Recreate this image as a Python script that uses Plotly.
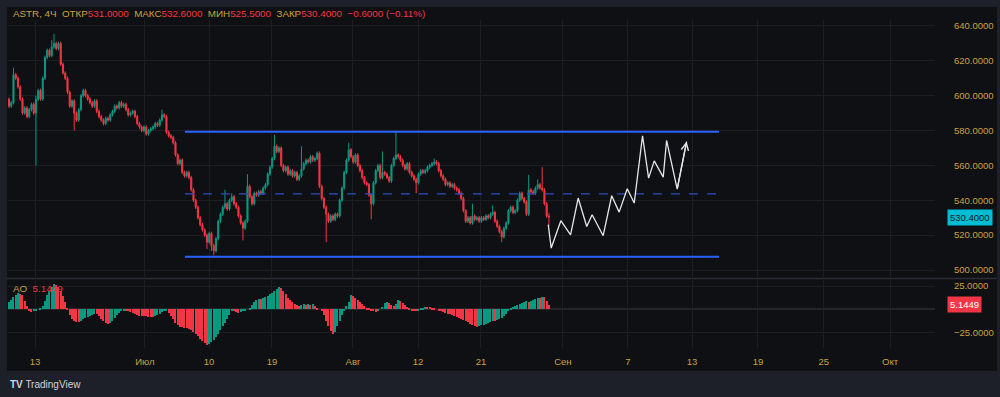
import plotly.graph_objects as go

W, H = 1000, 397

# ---------------- data ----------------
closes = [
    594, 596, 612, 610, 605, 598, 590, 593, 588, 592,
    595, 590, 598, 603, 598, 610, 622, 626, 623, 628,
    630, 627, 630, 618, 613, 610, 602, 594, 597, 590,
    586, 592, 600, 603, 600, 598, 596, 594, 597, 591,
    588, 586, 584, 587, 586, 589, 591, 594, 593, 596,
    594, 595, 592, 589, 590, 591, 588, 584, 582, 580,
    582, 578, 580, 581, 582, 584, 583, 586, 589, 588,
    579, 577, 576, 573, 566, 561, 563, 556, 554, 556,
    553, 546, 540, 536, 530, 526, 523, 520, 516, 521,
    514, 511, 518, 528, 532, 536, 538, 535, 540, 542,
    538, 536, 531, 527, 524, 528, 548, 542, 538, 544,
    543, 545, 544, 547, 549, 555, 559, 564, 571, 568,
    570, 560, 557, 559, 555, 557, 554, 556, 552, 554,
    558, 561, 563, 562, 565, 563, 564, 567, 548, 541,
    536, 532, 528, 531, 529, 532, 531, 540, 547, 556,
    563, 569, 565, 562, 566, 560, 557, 553, 550, 549,
    543, 538, 550, 557, 560, 553, 556, 555, 553, 551,
    560, 564, 566, 565, 563, 560, 558, 561, 556, 554,
    552, 550, 555, 557, 556, 557, 559, 560, 561, 562,
    561, 557, 554, 552, 549, 550, 548, 549, 547, 546,
    544, 541, 534, 528, 530, 527, 531, 529, 530, 528,
    530, 529, 531, 530, 532, 533, 528, 525, 522, 519,
    524, 527, 534, 536, 533, 534, 540, 544, 541, 539,
    532, 546, 545, 544, 547, 549, 547, 546, 538, 531,
    530.4,
]
first_open = 598.0
last_open = 531.0
last_high = 532.6
last_low = 525.5

# notable wicks (bar index -> price)
high_wicks = {2: 616, 12: 600, 19: 632, 20: 635.4, 68: 592, 96: 546, 99: 544,
              106: 555, 118: 577.5, 130: 571, 151: 573, 166: 568, 172: 579,
              189: 564, 206: 538, 215: 537, 231: 554.6, 235: 552, 237: 559}
low_wicks = {12: 560, 29: 580, 88: 512, 90: 511, 91: 508.5, 104: 517,
             141: 516, 161: 529, 181: 544, 219: 516}

ao = [
    8, 10, 13, 15, 18, 17, 15, 9, 4, -1,
    -3, -2, -1, 0, 2, 4, 9, 15, 20, 24,
    27, 26, 24, 20, 14, 8, 2, -6, -10, -12,
    -13, -13, -12, -10, -9, -8, -7, -6, -5, -5,
    -7, -10, -12, -14, -15, -14, -12, -9, -6, -4,
    -2, -1, -1, -2, -3, -4, -5, -6, -7, -7,
    -7, -7, -8, -8, -8, -7, -6, -5, -3, -2,
    -1, -4, -7, -10, -14, -17, -19, -19, -20, -20,
    -21, -22, -24, -26, -28, -31, -34, -36, -38, -37,
    -35, -32, -29, -26, -22, -18, -14, -10, -6, -2,
    -2, -3, -4, -3, -2, -1, 0, 2, 5, 8,
    10, 11, 11, 12, 13, 14, 16, 18, 20, 22,
    24, 23, 20, 16, 12, 10, 8, 6, 5, 4,
    5, 6, 5, 6, 5, 6, 4, 2, 0, -2,
    -6, -12, -18, -23, -26, -24, -18, -12, -6, -1,
    4, 8, 15, 14, 12, 10, 8, 6, 4, 2,
    1, -1, -2, -3, -2, 0, 3, 7, 8, 7,
    5, 4, 6, 10, 9, 7, 5, 3, 1, -1,
    -2, -2, -1, 1, 2, 3, 3, 3, 2, 1,
    0, -1, -2, -3, -4, -5, -5, -6, -7, -8,
    -9, -10, -11, -12, -13, -15, -17, -18, -19, -18,
    -17, -16, -15, -14, -13, -12, -12, -11, -10, -9,
    -7, -5, -2, 1, 3, 4, 5, 6, 7, 8,
    9, 8, 9, 10, 11, 12, 12, 13, 13, 9,
    5.1449,
]

# projected zig-zag drawing (bar index, price)
proj_idx = [239.7, 241.0, 245.3, 249.6, 253.0, 256.8, 259.2, 264.1, 267.9, 271.2,
            274.8, 277.9, 281.6, 284.3, 286.8, 290.8, 292.3, 297.0, 301.2]
proj_price = [526.0, 512.6, 528.3, 520.2, 541.3, 525.0, 531.7, 519.7, 542.6, 533.2,
              546.6, 538.4, 577.0, 552.7, 562.6, 553.3, 574.3, 546.4, 573.7]

# channel levels
level_top = 579.3
level_mid = 543.7
level_bot = 507.6
level_start, level_end = 78.2, 315.6

x_tick_pos = [11.6, 60.4, 88.9, 116.9, 152.9, 181.8, 209.8, 246.2, 275.1, 303.6, 332.9, 362.2, 391.6]
x_tick_text = ["13", "Июл", "10", "19", "Авг", "12", "21", "Сен", "7", "13", "19", "25", "Окт"]
price_ticks = [500, 520, 540, 560, 580, 600, 620, 640]
ao_ticks = [-25, 0, 25]
ao_tick_text = ["\u221225.0000", "", "25.0000"]

symbol = "ASTR, 4Ч"

# ---------------- styling ----------------
UP = "#089981"
DOWN = "#f23645"
GOLD = "#c9a243"
OUTER = "#1e2029"
PANEL = "#0f1013"
GRID = "#1c1e24"
FONT = "Liberation Sans"
FS = 9


def px(x):
    return x / W


def py(y):
    return 1 - y / H


n = len(closes)
xs = list(range(n))
opens = [first_open] + closes[:-1]
opens[-1] = last_open
highs = []
lows = []
for i in range(n):
    o, c = opens[i], closes[i]
    highs.append(high_wicks.get(i, max(o, c) + 1.0))
    lows.append(low_wicks.get(i, min(o, c) - 1.0))
highs[-1] = last_high
lows[-1] = last_low

ao_colors = [UP] + [UP if ao[i] > ao[i - 1] else DOWN for i in range(1, len(ao))]

fig = go.Figure()

fig.add_trace(go.Candlestick(
    x=xs, open=opens, high=highs, low=lows, close=closes,
    increasing=dict(line=dict(color=UP, width=1), fillcolor=UP),
    decreasing=dict(line=dict(color=DOWN, width=1), fillcolor=DOWN),
    whiskerwidth=0, xaxis="x", yaxis="y", showlegend=False, hoverinfo="skip",
))

# channel lines
for lvl, dash, width, color in [(level_top, "solid", 2, "#2962ff"),
                                (level_bot, "solid", 2, "#2962ff"),
                                (level_mid, "dash", 1.3, "#2b4fc4")]:
    fig.add_trace(go.Scatter(
        x=[level_start, level_end], y=[lvl, lvl], mode="lines",
        line=dict(color=color, width=width, dash=dash),
        xaxis="x", yaxis="y", showlegend=False, hoverinfo="skip",
    ))

# projection path
fig.add_trace(go.Scatter(
    x=proj_idx, y=proj_price, mode="lines",
    line=dict(color="#e6e6e6", width=1.3),
    xaxis="x", yaxis="y", showlegend=False, hoverinfo="skip",
))

# AO histogram
fig.add_trace(go.Bar(
    x=list(range(len(ao))), y=ao, marker=dict(color=ao_colors, line=dict(width=0)),
    width=0.45, xaxis="x2", yaxis="y2", showlegend=False, hoverinfo="skip",
))

x_dom = [px(8), px(935)]
x_range = [-0.44, 411.6]

fig.update_layout(
    width=W, height=H, autosize=False,
    margin=dict(l=0, r=0, t=0, b=0),
    paper_bgcolor=OUTER, plot_bgcolor="rgba(0,0,0,0)",
    font=dict(family=FONT, size=FS, color=GOLD),
    bargap=0,
    xaxis=dict(domain=x_dom, range=x_range, anchor="y", showticklabels=False,
               tickvals=x_tick_pos, showgrid=True, gridcolor=GRID, gridwidth=1,
               zeroline=False, showline=False, rangeslider=dict(visible=False),
               fixedrange=True),
    yaxis=dict(domain=[py(277), py(20)], range=[496, 643.4], side="right", anchor="x",
               tickvals=price_ticks, tickformat=".4f", showgrid=True, gridcolor=GRID,
               zeroline=False, showline=False, ticks="outside", ticklen=16,
               tickcolor=PANEL, tickfont=dict(size=FS + 0.5, color=GOLD)),
    xaxis2=dict(domain=x_dom, range=x_range, anchor="y2", matches="x",
                tickvals=x_tick_pos, ticktext=x_tick_text, showgrid=True,
                gridcolor=GRID, zeroline=False, showline=False, ticks="outside",
                ticklen=5, tickcolor="rgba(0,0,0,0)",
                tickfont=dict(size=FS + 0.5, color=GOLD)),
    yaxis2=dict(domain=[py(348), py(280)], range=[-41, 31.4], side="right", anchor="x2",
                tickvals=ao_ticks, ticktext=ao_tick_text, showgrid=True, gridcolor=GRID,
                zeroline=True, zerolinecolor="#22252c", showline=False, ticks="outside",
                ticklen=16, tickcolor=PANEL, tickfont=dict(size=FS + 0.5, color=GOLD)),
)

shapes = [
    # chart panel
    dict(type="rect", xref="paper", yref="paper", x0=px(7), x1=px(997), y0=py(371), y1=py(7),
         fillcolor=PANEL, line=dict(width=0), layer="below"),
    # pane separator
    dict(type="line", xref="paper", yref="paper", x0=px(7), x1=px(997), y0=py(278.5), y1=py(278.5),
         line=dict(color="#2a2d36", width=1.5)),
]
fig.update_layout(shapes=shapes)

last_close = closes[-1]
prev_close = closes[-2]
chg = last_close - prev_close
chg_pct = chg / prev_close * 100


def red(s):
    return f"<span style='color:{DOWN}'>{s}</span>"


def fmt_signed(v, nd):
    s = f"{abs(v):.{nd}f}"
    return ("\u2212" if v < 0 else "+") + s


legend_text = (
    f"{symbol}  ОТКР{red(f'{last_open:.4f}')}  МАКС{red(f'{last_high:.4f}')}  "
    f"МИН{red(f'{last_low:.4f}')}  ЗАКР{red(f'{last_close:.4f}')}  "
    f"{red(fmt_signed(chg, 4) + ' (' + fmt_signed(chg_pct, 2) + '%)')}"
)

annotations = [
    dict(xref="paper", yref="paper", x=px(11), y=py(13.5), xanchor="left", yanchor="middle",
         text=legend_text, showarrow=False, font=dict(size=FS + 0.8, color=GOLD, family=FONT)),
    dict(xref="paper", yref="paper", x=px(11), y=py(288), xanchor="left", yanchor="middle",
         text=f"AO  {red(f'{ao[-1]:.4f}')}", showarrow=False,
         font=dict(size=FS + 0.8, color=GOLD, family=FONT)),
    # current price label
    dict(xref="paper", yref="y", x=px(947), y=last_close, xanchor="left", yanchor="middle",
         text=f"{last_close:.4f}", showarrow=False, bgcolor="#00bcd4",
         font=dict(size=FS + 0.5, color="#131722", family=FONT), borderpad=2),
    # AO value label
    dict(xref="paper", yref="y2", x=px(947), y=ao[-1], xanchor="left", yanchor="middle",
         text=f"{ao[-1]:.4f}", showarrow=False, bgcolor=DOWN,
         font=dict(size=FS + 0.5, color="#ffffff", family=FONT), borderpad=2),
    # arrow head of projection
    dict(xref="x", yref="y", axref="x", ayref="y", x=proj_idx[-1], y=proj_price[-1],
         ax=proj_idx[-2], ay=proj_price[-2], text="", showarrow=True, arrowhead=5,
         arrowsize=1.1, arrowwidth=1.3, arrowcolor="#e6e6e6", standoff=0),
    # TradingView mark
    dict(xref="paper", yref="paper", x=px(8), y=py(384), xanchor="left", yanchor="middle",
         text="<b>TV</b> TradingView", showarrow=False,
         font=dict(size=10, color="#d1d4dc", family=FONT)),
]
fig.update_layout(annotations=annotations)

fig.write_html(
    "out.html",
    config={"displayModeBar": False},
    post_script="document.body.style.margin='0';document.body.style.overflow='hidden';",
)
